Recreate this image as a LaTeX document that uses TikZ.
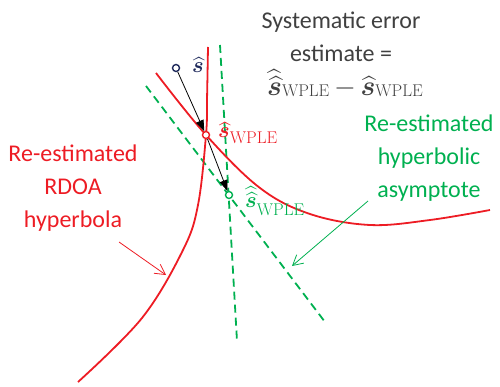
\RequirePackage{fix-cm}
\documentclass[tikz,border=0pt]{standalone}
\usepackage{amsmath}
\usepackage{bm}
\usepackage[no-math]{fontspec}
\setmainfont{Carlito}
\usepackage{tikz}
\usetikzlibrary{arrows.meta, positioning}
\definecolor{curvered}{RGB}{237,28,36}
\definecolor{asymgreen}{RGB}{0,176,80}
\definecolor{navy}{RGB}{31,42,92}
\definecolor{textgray}{RGB}{64,64,64}
% subscript of the estimates
\newcommand{\wple}[1]{\raisebox{#1}{\fontsize{17}{17}\selectfont$\mathrm{WPLE}$}}

\begin{document}
\begin{tikzpicture}[
    x=1pt, y=-1pt,
    % Styles
    hyperbola/.style={curvered, line width=1.8pt},
    asymptote/.style={asymgreen, line width=1.8pt, dash pattern=on 8pt off 5pt},
    estimate/.style={circle, draw, fill=white, line width=1.4pt, inner sep=0pt, minimum size=7pt},
    shiftarrow/.style={-{Triangle[length=11pt, width=8pt]}, line width=0.8pt, black},
    notearrow/.style={-{Straight Barb[length=10pt, width=11pt]}, line width=0.8pt},
    caption/.style={align=center, font=\fontsize{24}{33}\selectfont},
    estlabel/.style={font=\fontsize{22}{24}\selectfont, inner sep=0pt, anchor=base west}
]
    \useasboundingbox (0,0) rectangle (500,387);

    % Asymptotes
    \draw[asymptote] (220,45) -- (237,341);
    \draw[asymptote] (146,86) -- (325,322);

    % Hyperbola branches
    \draw[hyperbola] plot[smooth, tension=0.6] coordinates {(208,47) (207,100) (206,135) (198,205) (183,250) (142,318) (78,382)};
    \draw[hyperbola] plot[smooth, tension=0.6] coordinates {(156,73) (206,135) (260,188) (310,214) (370,225) (430,220) (490,210)};

    % Estimates
    \node[estimate, draw=navy] (shat) at (176,68) {};
    \node[estimate, draw=curvered] (swple) at (206,135) {};
    \node[estimate, draw=asymgreen] (sswple) at (229,195) {};

    \node[estlabel, navy] (shatlabel) at (192,73) {$\widehat{\bm{s}}$};
    \node[estlabel, curvered] (swplelabel) at (218,138) {$\widehat{\bm{s}}$\wple{-6pt}};
    \node[estlabel, asymgreen] (sswplelabel) at (245,208) {$\widehat{\widehat{\bm{s}}}$\wple{-7pt}};

    % Shift arrows
    \draw[shiftarrow] (shat) -- (swple);
    \draw[shiftarrow] (swple) -- (sswple);

    % Captions
    \node[caption, textgray] (errtext) at (341,37) {Systematic error\\ estimate =};
    \node[textgray, anchor=base, inner sep=0pt, font=\fontsize{28}{30}\selectfont] (errformula) at (345,96)
        {$\widehat{\widehat{\bm{s}}}$\wple{-1pt}\,$-$\,$\widehat{\bm{s}}$\wple{-1pt}};
    \node[caption, curvered] (rdoatext) at (73,188) {Re-estimated\\ RDOA\\ hyperbola};
    \node[caption, asymgreen] (asymtext) at (429,158) {Re-estimated\\ hyperbolic\\ asymptote};

    % Pointer arrows
    \coordinate (rdoatail) at (119,242);
    \coordinate (rdoatip) at (166,275);
    \coordinate (asymtail) at (368,201);
    \coordinate (asymtip) at (292,266);
    \draw[notearrow, curvered] (rdoatail) -- (rdoatip);
    \draw[notearrow, asymgreen] (asymtail) -- (asymtip);
\end{tikzpicture}
\end{document}
